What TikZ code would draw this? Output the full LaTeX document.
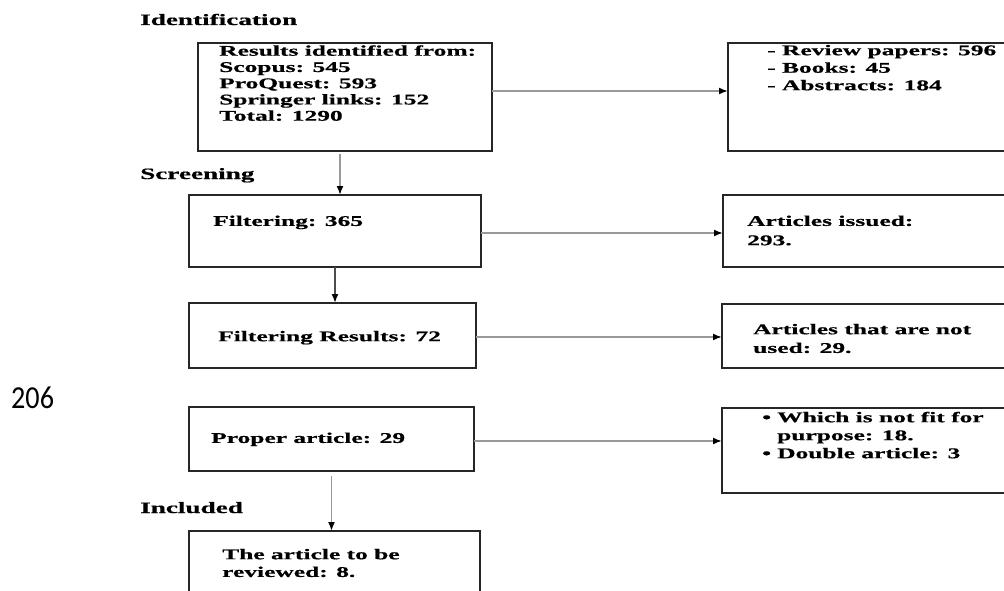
\documentclass[tikz,border=0pt]{standalone}
\usepackage{fontspec}
\usetikzlibrary{arrows.meta}
\newfontfamily\tbfam{Liberation Serif}[FakeStretch=1.72,FakeBold=0.6]
\newfontfamily\pagefam{Carlito}[FakeStretch=0.88]
\newcommand\fstrut{\rule{0pt}{11pt}}
\tikzset{
  x=1pt, y=-1pt,
  box/.style={draw=black!85, line width=1.1pt, inner sep=0pt, outer sep=0pt},
  txt/.style={anchor=north west, inner sep=0pt, align=left,
    font=\tbfam\bfseries\fontsize{14.8}{#1}\selectfont},
  txt/.default=16.25,
  head/.style={anchor=base west, inner sep=0pt,
    font=\tbfam\bfseries\fontsize{15.8}{18}\selectfont},
  arr/.style={draw=black!40, line width=1.7pt,
    -{Latex[length=9pt,width=7pt,color=black]}},
  darr/.style={arr, draw=black!70},
}
\begin{document}
\begin{tikzpicture}
\useasboundingbox (0,0) rectangle (1004,591);
\clip (0,0) rectangle (1004,591);
\fill[white] (0,0) rectangle (1004,591);

% page number
\node[anchor=base west, inner sep=0pt, font=\pagefam\fontsize{32}{36}\selectfont] (pageno) at (11,408) {206};

% headings
\node[head] (hid) at (140,25) {Identification};
\node[head] (hsc) at (140,179) {Screening};
\node[head] (hin) at (140,513) {Included};

% boxes
\node[box, minimum width=294pt, minimum height=108pt] (b1) at (345,97) {};
\node[box, minimum width=292pt, minimum height=108pt] (b2) at (874,97) {};
\node[box, minimum width=292pt, minimum height=72pt] (b3) at (335,231) {};
\node[box, minimum width=296pt, minimum height=72pt] (b5) at (871,231) {};
\node[box, minimum width=287pt, minimum height=65pt] (b4) at (332.5,335.5) {};
\node[box, minimum width=298pt, minimum height=64pt] (b6) at (871,336) {};
\node[box, minimum width=285pt, minimum height=64pt] (b7) at (331.5,439) {};
\node[box, minimum width=298pt, minimum height=85pt] (b9) at (871,450.5) {};
\node[box, minimum width=291pt, minimum height=80pt] (b8) at (334.5,571) {};

% texts
\node[txt] (t1) at (219,44.5) {\fstrut Results identified from:\\Scopus: 545\\ProQuest: 593\\Springer links: 152\\Total: 1290};
\node[txt=17.5] (t2) at (767,44) {\fstrut - Review papers: 596\\- Books: 45\\- Abstracts: 184};
\node[txt] (t3) at (213,214.7) {\fstrut Filtering: 365};
\node[txt=19.3] (t5) at (747,214.7) {\fstrut Articles issued:\\293.};
\node[txt] (t4) at (218,330) {\fstrut Filtering Results: 72};
\node[txt=18.7] (t6) at (753,323) {\fstrut Articles that are not\\used: 29.};
\node[txt] (t7) at (211,431.7) {\fstrut Proper article: 29};
\node[txt=18] (t9) at (762,411) {\fstrut\makebox[15pt][l]{•}Which is not fit for\\\hspace*{15pt}purpose: 18.\\\makebox[15pt][l]{•}Double article: 3};
\node[txt=17.7] (t8) at (222,548) {\fstrut The article to be\\reviewed: 8.};

% connectors
\coordinate (a1s) at ([xshift=-5pt]b1.south);
\draw[arr, shorten <=3pt] (a1s) -- (a1s |- b3.north);
\coordinate (a2s) at ([yshift=6pt]b1.east);
\draw[arr] (a2s) -- (a2s -| b2.west);
\coordinate (a3s) at ([yshift=-2pt]b3.east);
\draw[arr] (a3s) -- (a3s -| b5.west);
\draw[darr] (b3.south) -- (b3.south |- b4.north);
\coordinate (a5s) at ([yshift=-1.5pt]b4.east);
\draw[arr] (a5s) -- (a5s -| b6.west);
\coordinate (a6s) at ([yshift=-2pt]b7.east);
\draw[arr] (a6s) -- (a6s -| b9.west);
\draw[arr, shorten <=5pt] (b7.south) -- (b7.south |- b8.north);
\end{tikzpicture}
\end{document}
